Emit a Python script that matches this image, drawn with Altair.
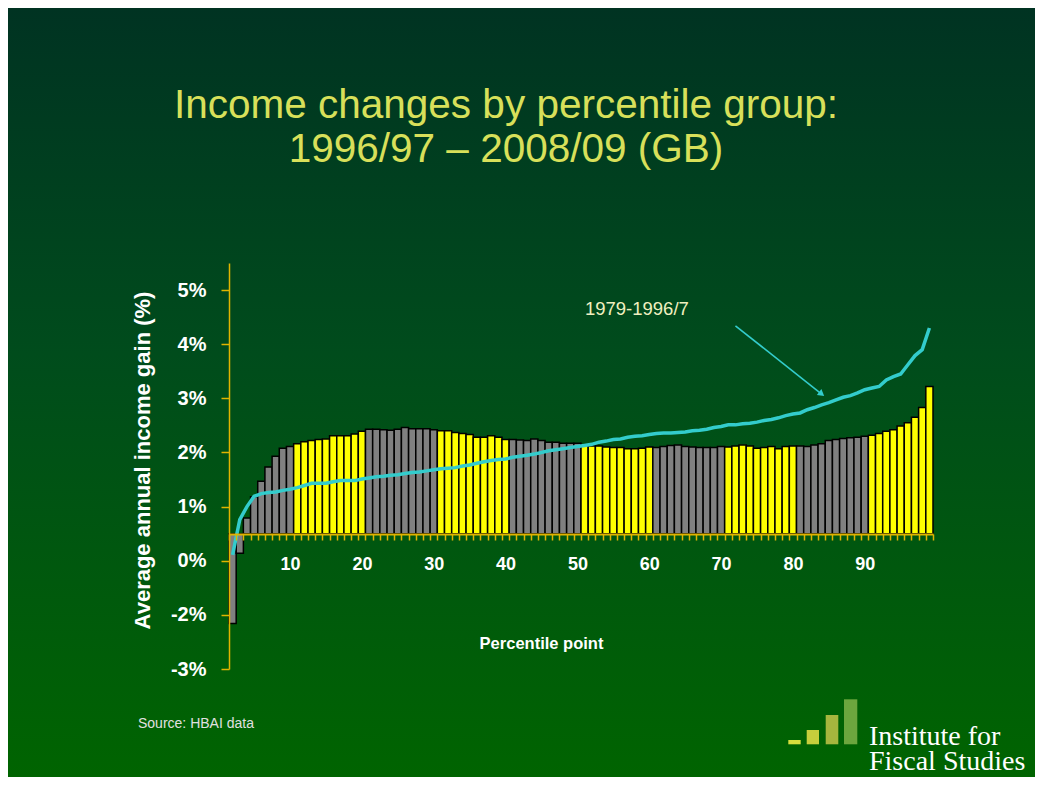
import altair as alt
import pandas as pd

# ---------------- data ----------------
percentiles = list(range(2, 100))

# average annual income gain 1996/97 - 2008/09 (bars), read against the printed axis
gain_9697_0809 = [
    -1.16, 0.14, 0.79, 1.18, 1.47, 1.73, 1.93, 2.08, 2.11,
    2.16, 2.20, 2.22, 2.24, 2.25, 2.31, 2.31, 2.31, 2.34, 2.39,
    2.43, 2.43, 2.42, 2.41, 2.43, 2.46, 2.44, 2.44, 2.44, 2.42,
    2.40, 2.40, 2.37, 2.35, 2.33, 2.28, 2.28, 2.31, 2.28, 2.24,
    2.24, 2.23, 2.22, 2.25, 2.22, 2.19, 2.19, 2.17, 2.17, 2.17,
    2.13, 2.12, 2.12, 2.10, 2.09, 2.09, 2.07, 2.07, 2.08, 2.10,
    2.09, 2.11, 2.13, 2.14, 2.11, 2.10, 2.09, 2.09, 2.09, 2.11,
    2.10, 2.12, 2.14, 2.12, 2.08, 2.09, 2.11, 2.07, 2.11, 2.12,
    2.12, 2.11, 2.14, 2.16, 2.22, 2.24, 2.26, 2.27, 2.28, 2.30,
    2.32, 2.35, 2.39, 2.42, 2.49, 2.55, 2.65, 2.83, 3.22,
]

# 1979 - 1996/7 (line)
gain_7996 = [
    0.11, 0.76, 1.00, 1.19, 1.24, 1.26, 1.27, 1.30, 1.32,
    1.35, 1.39, 1.43, 1.43, 1.43, 1.46, 1.48, 1.48, 1.48, 1.51,
    1.53, 1.55, 1.56, 1.58, 1.59, 1.61, 1.63, 1.64, 1.66, 1.68,
    1.70, 1.71, 1.72, 1.75, 1.77, 1.80, 1.83, 1.85, 1.87, 1.88,
    1.91, 1.93, 1.95, 1.97, 2.00, 2.03, 2.05, 2.07, 2.09, 2.11,
    2.13, 2.15, 2.19, 2.21, 2.24, 2.25, 2.28, 2.30, 2.31, 2.33,
    2.35, 2.36, 2.36, 2.37, 2.38, 2.40, 2.41, 2.43, 2.46, 2.48,
    2.51, 2.51, 2.53, 2.54, 2.56, 2.59, 2.61, 2.64, 2.68, 2.71,
    2.73, 2.79, 2.83, 2.88, 2.92, 2.97, 3.02, 3.05, 3.10, 3.16,
    3.19, 3.22, 3.34, 3.40, 3.45, 3.62, 3.79, 3.90, 4.30,
]

bar_baseline = 0.5
y_tick_values = [-2, -1, 0, 1, 2, 3, 4, 5]
y_tick_labels = ["-3%", "-2%", "0%", "1%", "2%", "3%", "4%", "5%"]
x_label_values = [10, 20, 30, 40, 50, 60, 70, 80, 90]

line_label = "1979-1996/7"
label_pct, label_val = 58, 4.54
arrow_from = (72, 4.34)
arrow_to = (84, 3.08)

title_lines = ["Income changes by percentile group:", "1996/97 \u2013 2008/09 (GB)"]
source_text = "Source: HBAI data"
logo_lines = ["Institute for", "Fiscal Studies"]

# ---------------- layout / style ----------------
W, H = 704, 406
PAD_L, PAD_T, PAD_R, PAD_B = 221, 255, 102, 108
GOLD = "#e0b400"
TEAL = "#33cccc"
FONT = "Liberation Sans"

df = pd.DataFrame({"pct": percentiles, "recent": gain_9697_0809, "earlier": gain_7996})
df["group"] = ["odd" if ((p - 1) // 10) % 2 == 0 else "even" for p in percentiles]
df["base"] = bar_baseline

one = pd.DataFrame({"k": [0]})

y_expr = "".join(
    f"datum.value == {v} ? '{l}' : " for v, l in zip(y_tick_values, y_tick_labels)
) + "''"
x_expr = f"indexof({x_label_values}, datum.value) >= 0 ? datum.label : ''"

x_scale = alt.Scale(domain=percentiles, paddingInner=0, paddingOuter=0)
y_scale = alt.Scale(domain=[-2, 5.5], nice=False, zero=False)

x_axis = alt.Axis(
    tickBand="extent", labelExpr=x_expr, labelOverlap=False, labelAngle=0,
    offset=-135, domainColor=GOLD, domainWidth=2, tickColor=GOLD, tickSize=6,
    tickWidth=1.5, labelColor="white", labelFont=FONT, labelFontSize=18,
    labelFontWeight="bold", labelPadding=15, grid=False,
    title="Percentile point", titleColor="white", titleFont=FONT,
    titleFontSize=16.5, titleFontWeight="bold", titleX=312, titleY=109,
    titleBaseline="middle", zindex=1,
)
y_axis = alt.Axis(
    values=y_tick_values, labelExpr=y_expr, domainColor=GOLD, domainWidth=1.5,
    tickColor=GOLD, tickSize=8, tickWidth=1.5, labelColor="white",
    labelFont=FONT, labelFontSize=20, labelFontWeight="bold", labelPadding=15,
    grid=False, title="Average annual income gain (%)", titleColor="white",
    titleFont=FONT, titleFontSize=22, titleFontWeight="bold", titleAngle=270,
    titleX=-87, titleY=197, titleBaseline="middle", zindex=1,
)

background = alt.Chart(one).mark_rect(
    fill={
        "gradient": "linear", "x1": 0, "y1": 0, "x2": 0, "y2": 1,
        "stops": [
            {"offset": 0, "color": "#003322"},
            {"offset": 0.45, "color": "#004c1c"},
            {"offset": 1, "color": "#006400"},
        ],
    },
    strokeWidth=0,
).encode(
    x=alt.value(-PAD_L), x2=alt.value(W + PAD_R),
    y=alt.value(-PAD_T), y2=alt.value(H + PAD_B),
)

bars = alt.Chart(df).mark_bar(stroke="black", strokeWidth=1.5).encode(
    x=alt.X("pct:O", scale=x_scale, axis=x_axis),
    y=alt.Y("recent:Q", scale=y_scale, axis=y_axis),
    y2="base:Q",
    color=alt.Color("group:N", scale=alt.Scale(domain=["odd", "even"],
                    range=["#808080", "#ffff00"]), legend=None),
)

line = alt.Chart(df).mark_line(color=TEAL, strokeWidth=3.5).encode(
    x="pct:O", y="earlier:Q",
)

arrow_df = pd.DataFrame({"x": [arrow_from[0]], "y": [arrow_from[1]],
                         "x2": [arrow_to[0]], "y2": [arrow_to[1]]})
arrow = alt.Chart(arrow_df).mark_rule(color=TEAL, strokeWidth=1.6).encode(
    x="x:O", y="y:Q", x2="x2:O", y2="y2:Q",
)
head = alt.Chart(arrow_df).mark_point(
    shape="triangle-up", filled=True, size=55, angle=128, color=TEAL,
    opacity=1, strokeWidth=0,
).encode(x="x2:O", y="y2:Q")

note_df = pd.DataFrame({"x": [label_pct], "y": [label_val], "t": [line_label]})
note = alt.Chart(note_df).mark_text(
    font=FONT, fontSize=18.5, color="#f0f0c0", align="center",
    baseline="alphabetic", dx=2,
).encode(x="x:O", y="y:Q", text="t:N")

source = alt.Chart(one).mark_text(
    text=source_text, font=FONT, fontSize=14, color="#e0e0e0",
    align="left", baseline="alphabetic",
).encode(x=alt.value(-91), y=alt.value(465))

logo_layers = []
for (x1, x2, y1, y2, c) in [
    (559.3, 571.7, 477, 481.3, "#d6de3e"),
    (577.7, 590.0, 467, 481.3, "#c6ce3c"),
    (596.7, 609.3, 452, 481.3, "#a6b63e"),
    (615.0, 628.3, 436.3, 481.3, "#6ca63e"),
]:
    logo_layers.append(
        alt.Chart(one).mark_rect(color=c).encode(
            x=alt.value(x1), x2=alt.value(x2), y=alt.value(y1), y2=alt.value(y2)
        )
    )
for txt, yy in zip(logo_lines, [482, 507]):
    logo_layers.append(
        alt.Chart(one).mark_text(
            text=txt, font="Liberation Serif", fontSize=28, color="white",
            align="left", baseline="alphabetic",
        ).encode(x=alt.value(640), y=alt.value(yy))
    )

chart = alt.layer(
    background, bars, line, arrow, head, note, source, *logo_layers
).properties(
    width=W, height=H,
    padding={"left": PAD_L, "top": PAD_T, "right": PAD_R, "bottom": PAD_B},
    autosize="none",
    background="#003322",
    title=alt.TitleParams(
        text=title_lines, font=FONT, fontSize=40.5, fontWeight="normal",
        color="#d8e05a", lineHeight=44, anchor="middle", frame="group",
        offset=0, dx=-75, dy=162, zindex=1,
    ),
).configure_view(strokeWidth=0)

chart.save("out.html", embed_options={"renderer": "svg", "actions": False})
